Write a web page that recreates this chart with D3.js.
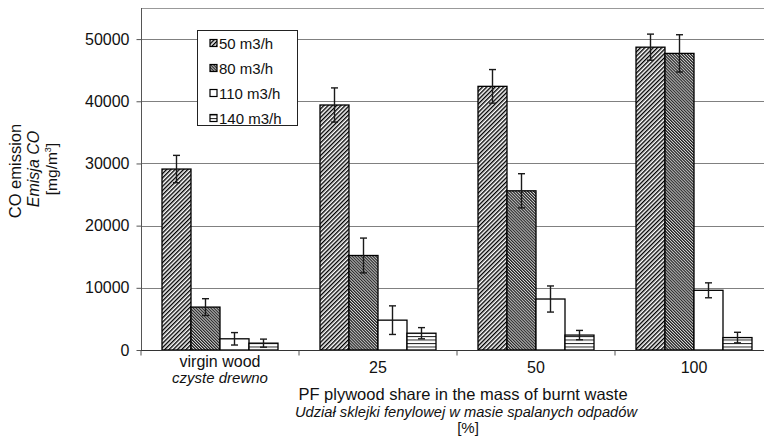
<!DOCTYPE html>
<html><head><meta charset="utf-8">
<script src="https://cdn.jsdelivr.net/npm/d3@7"></script>
<style>
html,body{margin:0;padding:0;background:#fff;}
svg{display:block;font-family:"Liberation Sans",Arial,sans-serif;}
</style></head>
<body>
<svg id="chart" width="764" height="438"></svg>
<script>
const categories = ["virgin wood", "25", "50", "100"];
const categoriesPL = ["czyste drewno", "", "", ""];
const seriesNames = ["50 m3/h", "80 m3/h", "110 m3/h", "140 m3/h"];
const v50  = [29100, 39400, 42400, 48700];
const e50  = [2200, 2750, 2700, 2100];
const v80  = [6900, 15200, 25600, 47700];
const e80  = [1350, 2800, 2750, 3000];
const v110 = [1800, 4800, 8200, 9600];
const e110 = [1000, 2300, 2100, 1200];
const v140 = [1100, 2700, 2400, 2000];
const e140 = [650, 900, 750, 850];
const yTicks = [0, 10000, 20000, 30000, 40000, 50000];

const values = [v50, v80, v110, v140];
const errors = [e50, e80, e110, e140];
const patterns = ["p50", "p80", "p110", "p140"];

const svg = d3.select("#chart");
const defs = svg.append("defs");

// 50: "/" hatch
let p = defs.append("pattern").attr("id","p50").attr("patternUnits","userSpaceOnUse")
  .attr("width",3).attr("height",3).attr("patternTransform","rotate(45)");
p.append("rect").attr("width",3).attr("height",3).attr("fill","#fff");
p.append("line").attr("x1",0.7).attr("y1",0).attr("x2",0.7).attr("y2",3).attr("stroke","#000").attr("stroke-width",1.4);
// 80: fine "\" hatch
p = defs.append("pattern").attr("id","p80").attr("patternUnits","userSpaceOnUse")
  .attr("width",2.1).attr("height",2.1).attr("patternTransform","rotate(-45)");
p.append("rect").attr("width",2.1).attr("height",2.1).attr("fill","#d8d8d8");
p.append("line").attr("x1",0.6).attr("y1",0).attr("x2",0.6).attr("y2",2.1).attr("stroke","#111").attr("stroke-width",1.1);
// 110: white
p = defs.append("pattern").attr("id","p110").attr("patternUnits","userSpaceOnUse")
  .attr("width",4).attr("height",4);
p.append("rect").attr("width",4).attr("height",4).attr("fill","#fff");
// 140: horizontal lines
p = defs.append("pattern").attr("id","p140").attr("patternUnits","userSpaceOnUse")
  .attr("width",4).attr("height",3.5).attr("y",350);
p.append("rect").attr("width",4).attr("height",3.5).attr("fill","#fff");
p.append("line").attr("x1",0).attr("y1",0.5).attr("x2",4).attr("y2",0.5).attr("stroke","#222").attr("stroke-width",1);

const pLeft = 141, pRight = 773, pTop = 8, pBottom = 350;
const y = d3.scaleLinear().domain([0, 55000]).range([pBottom, pTop]);
const x = d3.scaleBand().domain(categories).range([pLeft, pRight])
  .paddingInner(42/158).paddingOuter(21/158);
const xs = d3.scaleBand().domain(seriesNames).range([0, x.bandwidth()]);

// plot border top
svg.append("line").attr("x1",pLeft).attr("x2",pRight).attr("y1",pTop+0.5).attr("y2",pTop+0.5)
  .attr("stroke","#999").attr("stroke-width",1);

// gridlines
svg.append("g").selectAll("line").data(yTicks.filter(d=>d>0)).join("line")
  .attr("x1",pLeft).attr("x2",pRight)
  .attr("y1",d=>Math.round(y(d))+0.5).attr("y2",d=>Math.round(y(d))+0.5)
  .attr("stroke","#808080").attr("stroke-width",1);

// bars
const groups = svg.append("g").selectAll("g").data(seriesNames).join("g");
groups.each(function(s, si){
  const g = d3.select(this);
  g.selectAll("rect").data(values[si]).join("rect")
    .attr("x",(d,i)=>x(categories[i]) + xs(s))
    .attr("width",xs.bandwidth())
    .attr("y",d=>y(d))
    .attr("height",d=>pBottom - y(d))
    .attr("fill",`url(#${patterns[si]})`)
    .attr("stroke","#000").attr("stroke-width",1.3);
});
// error bars
groups.each(function(s, si){
  const g = d3.select(this).append("g").attr("stroke","#1a1a1a").attr("stroke-width",1.4);
  values[si].forEach((v,i)=>{
    const cx = x(categories[i]) + xs(s) + xs.bandwidth()/2;
    const e = errors[si][i];
    const y1 = y(v+e), y2 = y(v-e);
    g.append("line").attr("x1",cx).attr("x2",cx).attr("y1",y1).attr("y2",y2);
    g.append("line").attr("x1",cx-3.5).attr("x2",cx+3.5).attr("y1",y1).attr("y2",y1);
    g.append("line").attr("x1",cx-3.5).attr("x2",cx+3.5).attr("y1",y2).attr("y2",y2);
  });
});

// y axis
const yAxis = d3.axisLeft(y).tickValues(yTicks).tickSize(5).tickPadding(7).tickFormat(d3.format("d"));
const ya = svg.append("g").attr("transform",`translate(${pLeft+0.5},0)`).call(yAxis);
ya.select(".domain").attr("stroke","#555").attr("d",`M0,${pTop}V${pBottom}`);
ya.selectAll(".tick line").attr("stroke","#555");
ya.selectAll(".tick text").attr("font-size",16).attr("fill","#111")
  .attr("font-family","'Liberation Sans',Arial,sans-serif");

// x axis
const xa = svg.append("g").attr("transform",`translate(0,${pBottom+0.5})`);
xa.append("line").attr("x1",pLeft).attr("x2",pRight).attr("stroke","#333").attr("stroke-width",1.2);
const bounds = d3.range(categories.length+1).map(i => pLeft + i*x.step());
xa.selectAll("line.tk").data(bounds).join("line").attr("class","tk")
  .attr("x1",d=>d).attr("x2",d=>d).attr("y1",0).attr("y2",5).attr("stroke","#555");

// category labels
svg.append("g").selectAll("text").data(categories).join("text")
  .attr("x",d=>x(d)+x.bandwidth()/2)
  .attr("y",(d,i)=>categoriesPL[i] ? 367 : 373)
  .attr("text-anchor","middle").attr("font-size",16).attr("fill","#111").text(d=>d);
svg.append("g").selectAll("text").data(categoriesPL).join("text")
  .attr("x",(d,i)=>x(categories[i])+x.bandwidth()/2)
  .attr("y",383).attr("text-anchor","middle").attr("font-size",15)
  .attr("font-style","italic").attr("fill","#111").text(d=>d);

// x title
const xt = svg.append("g").attr("text-anchor","middle").attr("fill","#111");
xt.append("text").attr("x",463).attr("y",400).attr("font-size",16.5).text("PF plywood share in the mass of burnt waste");
xt.append("text").attr("x",466).attr("y",417).attr("font-size",14.7).attr("font-style","italic").text("Udział sklejki fenylowej w masie spalanych odpadów");
xt.append("text").attr("x",468).attr("y",433).attr("font-size",15).text("[%]");

// y title
const yt = svg.append("g").attr("text-anchor","middle").attr("fill","#111");
yt.append("text").attr("transform","translate(21,171) rotate(-90)").attr("font-size",16.5).text("CO emission");
yt.append("text").attr("transform","translate(39,169) rotate(-90)").attr("font-size",16).attr("font-style","italic").text("Emisja CO");
const t3 = yt.append("text").attr("transform","translate(56.5,169) rotate(-90)").attr("font-size",15.5);
t3.append("tspan").text("[mg/m");
t3.append("tspan").attr("font-size",9).attr("dy",-6).text("3");
t3.append("tspan").attr("dy",6).text("]");

// legend
const lg = svg.append("g");
lg.append("rect").attr("x",197.5).attr("y",30.5).attr("width",100).attr("height",95)
  .attr("fill","#fff").attr("stroke","#222").attr("stroke-width",1);
const ly = d3.scalePoint().domain(seriesNames).range([43, 118]);
const items = lg.selectAll("g").data(seriesNames).join("g")
  .attr("transform",d=>`translate(210,${ly(d)})`);
items.append("rect").attr("x",0).attr("y",-3.5).attr("width",7).attr("height",7)
  .attr("fill",(d,i)=>`url(#${patterns[i]})`).attr("stroke","#000").attr("stroke-width",1.2);
items.append("text").attr("x",9).attr("y",5.5).attr("font-size",15).attr("fill","#111").text(d=>d);
</script>
</body></html>
